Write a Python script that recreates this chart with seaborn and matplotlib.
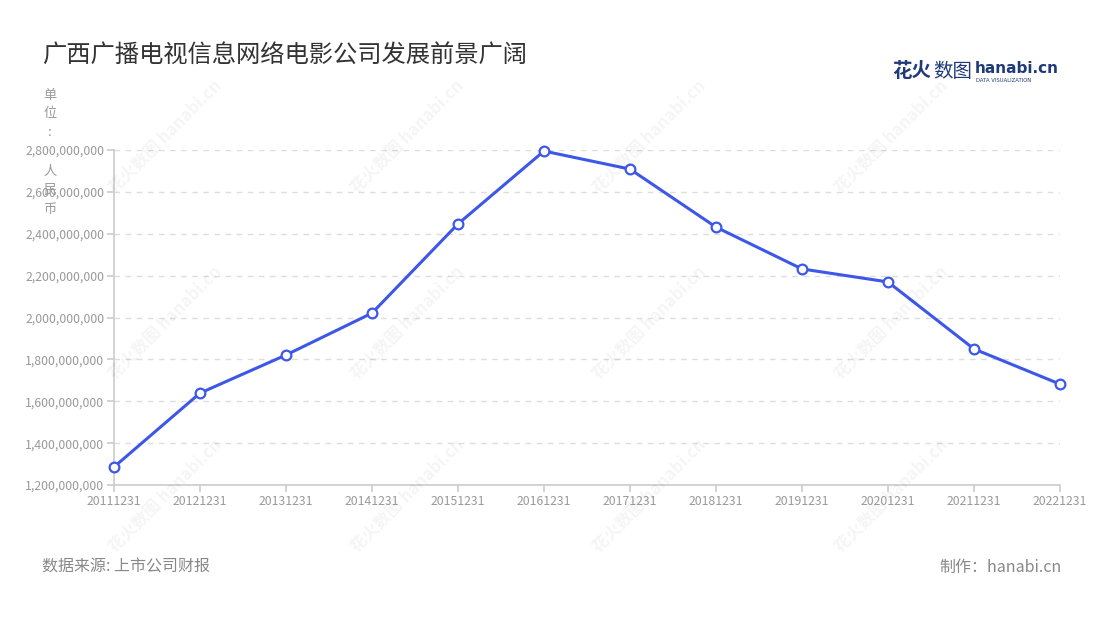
import matplotlib
matplotlib.use('Agg')
import matplotlib.pyplot as plt
import seaborn as sns
import pandas as pd
from matplotlib.ticker import FuncFormatter

# data
dates = ['20111231', '20121231', '20131231', '20141231', '20151231', '20161231',
         '20171231', '20181231', '20191231', '20201231', '20211231', '20221231']
revenue = [1286000000, 1639000000, 1821000000, 2021000000, 2447000000, 2795000000,
           2709000000, 2432000000, 2232000000, 2170000000, 1850000000, 1682000000]
y_ticks = [1200000000, 1400000000, 1600000000, 1800000000, 2000000000,
           2200000000, 2400000000, 2600000000, 2800000000]

df = pd.DataFrame({'date': dates, 'revenue': revenue})

sns.set_theme(style='white')
plt.rcParams['font.family'] = ['Noto Sans CJK SC', 'DejaVu Sans']

line_color = '#3d57e8'
tick_color = '#999999'
axis_color = '#cccccc'

fig = plt.figure(figsize=(11, 6.2), dpi=100)
ax = fig.add_axes([0.1036, 0.2177, 0.86, 0.5403])

# faint watermarks
for wx, wy in [(0.15, 0.78), (0.37, 0.78), (0.59, 0.78), (0.81, 0.78),
               (0.15, 0.48), (0.37, 0.48), (0.59, 0.48), (0.81, 0.48),
               (0.15, 0.2), (0.37, 0.2), (0.59, 0.2), (0.81, 0.2)]:
    fig.text(wx, wy, '花火数图 hanabi.cn', rotation=45, fontsize=12, color='#000000',
             alpha=0.045, ha='center', va='center', fontweight='bold', zorder=0)

sns.lineplot(data=df, x='date', y='revenue', ax=ax, color=line_color, linewidth=2.2,
             marker='o', markersize=7, markerfacecolor='white', markeredgecolor=line_color,
             markeredgewidth=1.6, sort=False, clip_on=False, zorder=5)

ax.set_xlim(0, len(dates) - 1)
ax.set_ylim(y_ticks[0], y_ticks[-1])
ax.set_yticks(y_ticks)
ax.yaxis.set_major_formatter(FuncFormatter(lambda v, p: f'{int(v):,}'))
ax.set_xlabel('')
ax.set_ylabel('')

ax.grid(axis='y', linestyle=(0, (4, 4)), color='#dddddd', linewidth=1)
ax.set_axisbelow(True)
for side in ['top', 'right']:
    ax.spines[side].set_visible(False)
for side in ['left', 'bottom']:
    ax.spines[side].set_color(axis_color)
    ax.spines[side].set_linewidth(1.2)
ax.tick_params(axis='both', colors=axis_color, length=5, width=1.2, labelsize=8.8,
               labelcolor=tick_color, pad=2, left=True, bottom=True)

# title
fig.text(0.038, 0.912, '广西广播电视信息网络电影公司发展前景广阔', fontsize=17.5, color='#333333',
         ha='left', va='center')

# vertical unit label
for ch, py in [('单', 95), ('位', 114), (':', 133), ('人', 171), ('民', 190), ('币', 209)]:
    fig.text(50 / 1100, 1 - py / 620, ch, fontsize=9.5, color=tick_color, ha='center', va='center')

# logo
fig.text(0.811, 0.884, '花火', fontsize=14, color='#1f3a78', fontweight='bold', ha='left', va='center')
fig.text(0.8485, 0.884, '数图', fontsize=14, color='#1f3a78', ha='left', va='center')
fig.text(0.886, 0.889, 'hanabi.cn', fontsize=11, color='#1f3a78', fontweight='bold',
         ha='left', va='center', family='DejaVu Sans')
fig.text(0.887, 0.870, 'DATA VISUALIZATION', fontsize=3.8, color='#1f3a78',
         ha='left', va='center', family='DejaVu Sans')

# footer
fig.text(0.038, 0.085, '数据来源: 上市公司财报', fontsize=11.5, color='#888888', ha='left', va='center')
fig.text(0.965, 0.085, '制作：hanabi.cn', fontsize=11.5, color='#888888', ha='right', va='center')

fig.savefig('out.png', dpi=100)
